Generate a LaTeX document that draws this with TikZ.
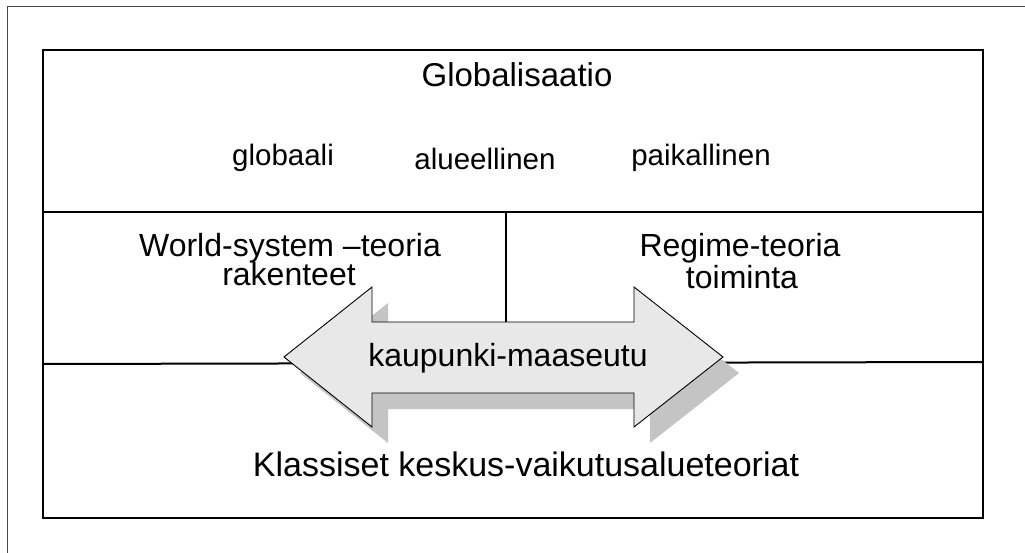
\documentclass[tikz,border=0pt]{standalone}
\usepackage{fontspec}
\setmainfont{Liberation Sans}
\definecolor{arrowfill}{HTML}{E8E8E8}
\definecolor{arrowshade}{HTML}{C4C4C4}
\definecolor{framegray}{HTML}{4A4A4A}
\begin{document}
\begin{tikzpicture}[x=1pt,y=-1pt,
  lbl/.style={inner sep=0pt, anchor=base, font=\fontsize{32}{36}\selectfont},
  small/.style={lbl, font=\fontsize{29.5}{33}\selectfont},
  boxline/.style={line width=2.2pt, black},
  divline/.style={line width=2pt, black}]
\useasboundingbox (0,0) rectangle (1025,553);
\fill[white] (0,0) rectangle (1025,553);

% page frame (top and left edges only)
\draw[framegray, line width=1pt] (7,553) -- (7,7) -- (1025,7);

% outer box
\draw[boxline] (43,50) rectangle (983,518);

% dividing lines
\coordinate (hl) at (43,212);
\coordinate (hr) at (983,212);
\draw[divline] (hl) -- (hr);
\coordinate (vt) at (505.5,212);
\coordinate (vb) at (505.5,323);
\draw[divline] (vt) -- (vb);
\coordinate (ll) at (43,364);
\coordinate (lr) at (983,362);
\draw[divline] (ll) -- (lr);

% double arrow: shadow, then body
\def\arrowpath{(284,357) -- (372,287) -- (372,322) -- (634,322) -- (634,287)
  -- (723,357) -- (634,427) -- (634,393) -- (372,393) -- (372,427) -- cycle}
\fill[arrowshade, shift={(16,16)}] \arrowpath;
\filldraw[fill=arrowfill, draw=black, line width=0.9pt, line join=miter] \arrowpath;

% texts
\node[lbl, font=\fontsize{33}{36}\selectfont] (glob) at (517,87) {Globalisaatio};
\node[small] (globaali) at (283,166) {globaali};
\node[small] (alue) at (485,170) {alueellinen};
\node[small] (paik) at (701,166) {paikallinen};
\node[lbl] (ws1) at (290,257) {World-system –teoria};
\node[lbl] (ws2) at (289,286) {rakenteet};
\node[lbl] (rg1) at (740,257) {Regime-teoria};
\node[lbl] (rg2) at (742,288) {toiminta};
\node[lbl] (km) at (508,366) {kaupunki-maaseutu};
\node[lbl, font=\fontsize{34}{38}\selectfont] (kl) at (526,476) {Klassiset keskus-vaikutusalueteoriat};
\end{tikzpicture}
\end{document}
